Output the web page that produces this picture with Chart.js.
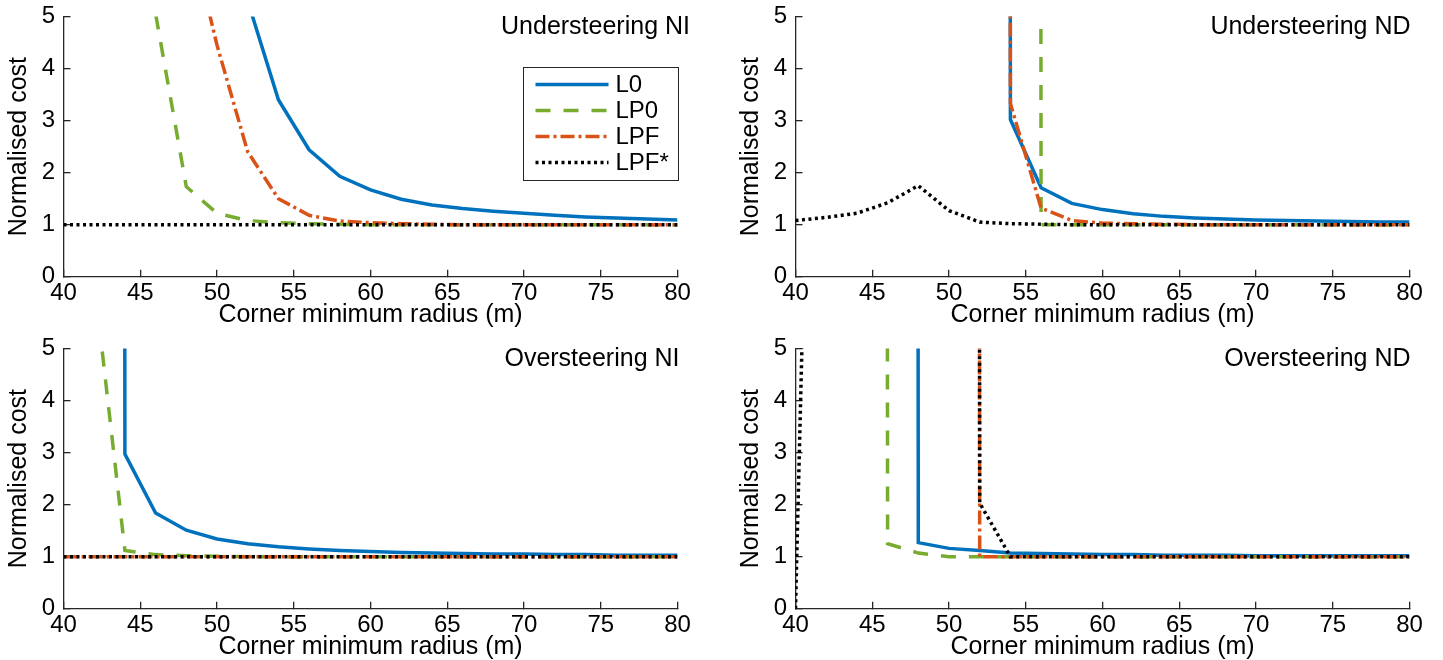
<!DOCTYPE html>
<html>
<head>
<meta charset="utf-8">
<title>Normalised cost vs corner minimum radius</title>
<script src="https://cdn.jsdelivr.net/npm/chart.js@4.4.1/dist/chart.umd.min.js"></script>
<style>
  html, body { margin: 0; padding: 0; background: #fff; overflow: hidden; }
  body { width: 1443px; height: 660px; position: relative; }
  .panel { position: absolute; }
</style>
</head>
<body>
<div class="panel" style="left:0;top:0;width:720px;height:328px"><canvas id="usNi"></canvas></div>
<div class="panel" style="left:732px;top:0;width:711px;height:328px"><canvas id="usNd"></canvas></div>
<div class="panel" style="left:0;top:332px;width:720px;height:328px"><canvas id="osNi"></canvas></div>
<div class="panel" style="left:732px;top:332px;width:711px;height:328px"><canvas id="osNd"></canvas></div>
<script>
// cost of an infeasible radius, far above the plotted range
const INF = 1000;

const radius = [40, 42, 44, 46, 48, 50, 52, 54, 56, 58, 60, 62, 64, 66, 68, 70, 72, 74, 76, 78, 80];
const radiusTicks = [40, 45, 50, 55, 60, 65, 70, 75, 80];
const costTicks = [0, 1, 2, 3, 4, 5];
const seriesNames = ["L0", "LP0", "LPF", "LPF*"];

// Understeering NI
const usNiL0 = [INF, INF, INF, INF, INF, INF, 5.3, 3.4, 2.44, 1.93, 1.67, 1.49, 1.38, 1.31, 1.26, 1.22, 1.18, 1.15, 1.13, 1.11, 1.09];
const usNiLP0 = [INF, INF, INF, 5.05, 1.73, 1.22, 1.08, 1.04, 1.02, 1.01, 1, 1, 1, 1, 1, 1, 1, 1, 1, 1, 1];
const usNiLPF = [INF, INF, INF, INF, 6.9, 4.45, 2.4, 1.5, 1.18, 1.07, 1.04, 1.02, 1.01, 1, 1, 1, 1, 1, 1, 1, 1];
const usNiLPFs = [1, 1, 1, 1, 1, 1, 1, 1, 1, 1, 1, 1, 1, 1, 1, 1, 1, 1, 1, 1, 1];

// Understeering ND
const usNdL0 = [INF, INF, INF, INF, INF, INF, INF, 3.02, 1.71, 1.41, 1.29, 1.21, 1.16, 1.13, 1.11, 1.09, 1.08, 1.07, 1.06, 1.05, 1.05];
const usNdLP0 = [INF, INF, INF, INF, INF, INF, INF, INF, 1, 1, 1, 1, 1, 1, 1, 1, 1, 1, 1, 1, 1];
const usNdLPF = [INF, INF, INF, INF, INF, INF, INF, 3.33, 1.32, 1.08, 1.03, 1.02, 1.01, 1, 1, 1, 1, 1, 1, 1, 1];
const usNdLPFs = [1.08, 1.14, 1.22, 1.42, 1.75, 1.27, 1.05, 1.02, 1.01, 1, 1, 1, 1, 1, 1, 1, 1, 1, 1, 1, 1];

// Oversteering NI
const osNiL0 = [INF, INF, 2.97, 1.84, 1.51, 1.34, 1.25, 1.19, 1.15, 1.12, 1.1, 1.08, 1.07, 1.06, 1.05, 1.05, 1.04, 1.04, 1.03, 1.03, 1.03];
const osNiLP0 = [INF, 6.3, 1.12, 1.04, 1.02, 1.01, 1, 1, 1, 1, 1, 1, 1, 1, 1, 1, 1, 1, 1, 1, 1];
const osNiLPF = [1, 1, 1, 1, 1, 1, 1, 1, 1, 1, 1, 1, 1, 1, 1, 1, 1, 1, 1, 1, 1];
const osNiLPFs = [1, 1, 1, 1, 1, 1, 1, 1, 1, 1, 1, 1, 1, 1, 1, 1, 1, 1, 1, 1, 1];

// Oversteering ND
const osNdL0 = [INF, INF, INF, INF, 1.27, 1.16, 1.12, 1.07, 1.06, 1.05, 1.04, 1.04, 1.03, 1.03, 1.03, 1.02, 1.02, 1.02, 1.02, 1.02, 1.02];
const osNdLP0 = [INF, INF, INF, 1.25, 1.07, 1, 1, 1, 1, 1, 1, 1, 1, 1, 1, 1, 1, 1, 1, 1, 1];
const osNdLPF = [INF, INF, INF, INF, INF, INF, 1, 1, 1, 1, 1, 1, 1, 1, 1, 1, 1, 1, 1, 1, 1];
const osNdLPFs = [0, 24, INF, INF, INF, INF, 2.03, 1, 1, 1, 1, 1, 1, 1, 1, 1, 1, 1, 1, 1, 1];

const lineStyles = [
  { color: "#0072BD", dash: [] },
  { color: "#77AC30", dash: [15, 13] },
  { color: "#D95319", dash: [14, 4, 3, 4] },
  { color: "#000000", dash: [3, 3.5] }
];

const FONT = '"Liberation Sans", Arial, sans-serif';
const AXIS_COLOR = "#262626";

// panel name in the top right corner
const panelLabel = {
  id: "panelLabel",
  afterDraw(chart, args, opts) {
    const { ctx, chartArea } = chart;
    ctx.save();
    ctx.font = "25px " + FONT;
    ctx.fillStyle = "#000";
    ctx.textAlign = "right";
    ctx.textBaseline = "alphabetic";
    ctx.fillText(opts.text, chartArea.right + opts.dx, chartArea.top + 17);
    ctx.restore();
  }
};

// boxed legend inside the first panel
const legendBox = {
  id: "legendBox",
  afterDatasetsDraw(chart, args, opts) {
    if (!opts.show) {
      return;
    }
    const { ctx, chartArea } = chart;
    const w = 155;
    const h = 113;
    const left = Math.round(chartArea.right - 155) + 0.5;
    const top = Math.round(chartArea.top + 50) + 0.5;

    ctx.save();
    ctx.fillStyle = "#fff";
    ctx.fillRect(left, top, w, h);
    ctx.strokeStyle = AXIS_COLOR;
    ctx.lineWidth = 1;
    ctx.strokeRect(left, top, w, h);

    // legend order follows the series order, not the drawing order
    const items = [...chart.data.datasets].sort((a, b) => a.seriesIndex - b.seriesIndex);
    items.forEach((ds, i) => {
      const y = top + 17 + i * 26;
      ctx.beginPath();
      ctx.setLineDash(ds.borderDash);
      ctx.strokeStyle = ds.borderColor;
      ctx.lineWidth = ds.borderWidth;
      ctx.lineCap = "butt";
      ctx.moveTo(left + 12, y);
      ctx.lineTo(left + 85, y);
      ctx.stroke();
      ctx.setLineDash([]);
      ctx.fillStyle = "#000";
      ctx.font = "24px " + FONT;
      ctx.textAlign = "left";
      ctx.textBaseline = "middle";
      ctx.fillText(ds.label, left + 92, y + 1);
    });
    ctx.restore();
  }
};

function tickValues(values) {
  return (scale) => {
    scale.ticks = values.map((v) => ({ value: v }));
  };
}

function criarPainel(canvasId, titulo, labelDx, series, mostrarLegenda) {
  const canvas = document.getElementById(canvasId);
  const largura = canvas.parentNode.clientWidth;
  const altura = canvas.parentNode.clientHeight;

  const datasets = series.map((valores, i) => {
    return {
      label: seriesNames[i],
      seriesIndex: i,
      data: radius.map((r, j) => ({ x: r, y: valores[j] })),
      borderColor: lineStyles[i].color,
      borderDash: lineStyles[i].dash,
      borderWidth: 3.5,
      borderCapStyle: "butt",
      borderJoinStyle: "miter",
      pointRadius: 0,
      tension: 0,
      fill: false,
      // later series are painted on top
      order: series.length - i
    };
  });

  return new Chart(canvas, {
    type: "line",
    data: { datasets: datasets },
    plugins: [panelLabel, legendBox],
    options: {
      responsive: true,
      maintainAspectRatio: false,
      animation: false,
      events: [],
      layout: {
        padding: { left: 0, top: 16.5, right: largura - 677.5, bottom: 0 }
      },
      plugins: {
        legend: { display: false },
        tooltip: { enabled: false },
        panelLabel: { text: titulo, dx: labelDx },
        legendBox: { show: mostrarLegenda }
      },
      scales: {
        x: {
          type: "linear",
          min: 40,
          max: 80,
          afterBuildTicks: tickValues(radiusTicks),
          afterFit: (scale) => {
            scale.height = altura - 276.75;
            scale.paddingLeft = 0;
            scale.paddingRight = 0;
          },
          border: { display: true, color: AXIS_COLOR, width: 1.3 },
          grid: {
            drawOnChartArea: false,
            drawTicks: true,
            tickLength: -7,
            tickColor: AXIS_COLOR,
            lineWidth: 1.3
          },
          ticks: {
            color: "#000",
            font: { family: FONT, size: 24 },
            padding: 9,
            maxRotation: 0,
            autoSkip: false
          },
          title: {
            display: true,
            text: "Corner minimum radius (m)",
            color: "#000",
            font: { family: FONT, size: 25 },
            padding: { top: 0, bottom: -2 }
          }
        },
        y: {
          type: "linear",
          min: 0,
          max: 5,
          afterBuildTicks: tickValues(costTicks),
          afterFit: (scale) => {
            scale.width = 63.5;
            // let the end labels overhang instead of shrinking the plot
            scale.paddingTop = 0;
            scale.paddingBottom = 0;
          },
          border: { display: true, color: AXIS_COLOR, width: 1.3 },
          grid: {
            drawOnChartArea: false,
            drawTicks: true,
            tickLength: -7,
            tickColor: AXIS_COLOR,
            lineWidth: 1.3
          },
          ticks: {
            color: "#000",
            font: { family: FONT, size: 24 },
            padding: 15.5,
            autoSkip: false
          },
          title: {
            display: true,
            text: "Normalised cost",
            color: "#000",
            font: { family: FONT, size: 25 },
            padding: { top: 4, bottom: 0 }
          }
        }
      }
    }
  });
}

criarPainel("usNi", "Understeering NI", 12.5, [usNiL0, usNiLP0, usNiLPF, usNiLPFs], true);
criarPainel("usNd", "Understeering ND", 1, [usNdL0, usNdLP0, usNdLPF, usNdLPFs], false);
criarPainel("osNi", "Oversteering NI", 2, [osNiL0, osNiLP0, osNiLPF, osNiLPFs], false);
criarPainel("osNd", "Oversteering ND", 1, [osNdL0, osNdLP0, osNdLPF, osNdLPFs], false);
</script>
</body>
</html>
